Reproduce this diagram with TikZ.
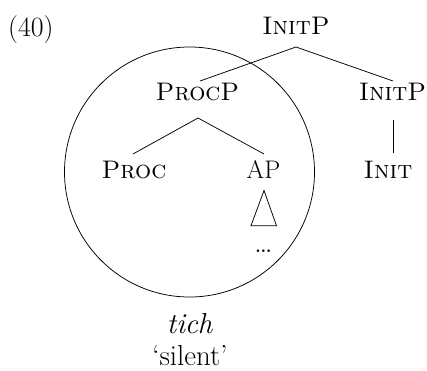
\documentclass[tikz,border=0pt]{standalone}
\usepackage{fontspec}
\begin{document}
\begin{tikzpicture}[x=1bp,y=-1bp,
  lab/.style={inner sep=0pt,anchor=base,font=\fontsize{25.5}{30}\selectfont},
  big/.style={lab,font=\fontsize{29}{34}\selectfont},
  edge/.style={line width=0.75bp},
  ring/.style={line width=0.75bp}]
\useasboundingbox (0,0) rectangle (427,371);
\node[lab,anchor=base west,font=\fontsize{28}{32}\selectfont] (ex) at (8,36.5) {(40)};
\node[lab] (top) at (296,34.5) {\textsc{InitP}};
\node[lab] (procp) at (197.5,100) {\textsc{ProcP}};
\node[lab] (initp) at (392.5,100) {\textsc{InitP}};
\node[lab] (proc) at (134,178) {\textsc{Proc}};
\node[lab] (ap) at (263.5,178) {AP};
\node[lab] (init) at (388,178) {\textsc{Init}};
\node[big,font=\fontsize{32}{36}\selectfont] (dots) at (263.5,252.5) {\ldots};
\node[big] (tich) at (190,333) {\textit{tich}};
\node[big] (gloss) at (190,365.5) {`silent'};
\coordinate (c) at (189.5,172);
\coordinate (topS) at (296,47);
\coordinate (procpN) at (200,81);
\coordinate (initpN) at (393,81);
\coordinate (procpS) at (198,118);
\coordinate (procN) at (133,154);
\coordinate (apN) at (264,154);
\coordinate (initpS) at (393,120);
\coordinate (initN) at (393,153);
\coordinate (triA) at (264,190.5);
\coordinate (triL) at (251,225.7);
\coordinate (triR) at (276.5,225.7);
\draw[ring] (c) circle[radius=125];
\draw[edge] (procpN) -- (topS) -- (initpN);
\draw[edge] (procN) -- (procpS) -- (apN);
\draw[edge] (initpS) -- (initN);
\draw[edge] (triA) -- (triL) -- (triR) -- cycle;
\end{tikzpicture}
\end{document}
